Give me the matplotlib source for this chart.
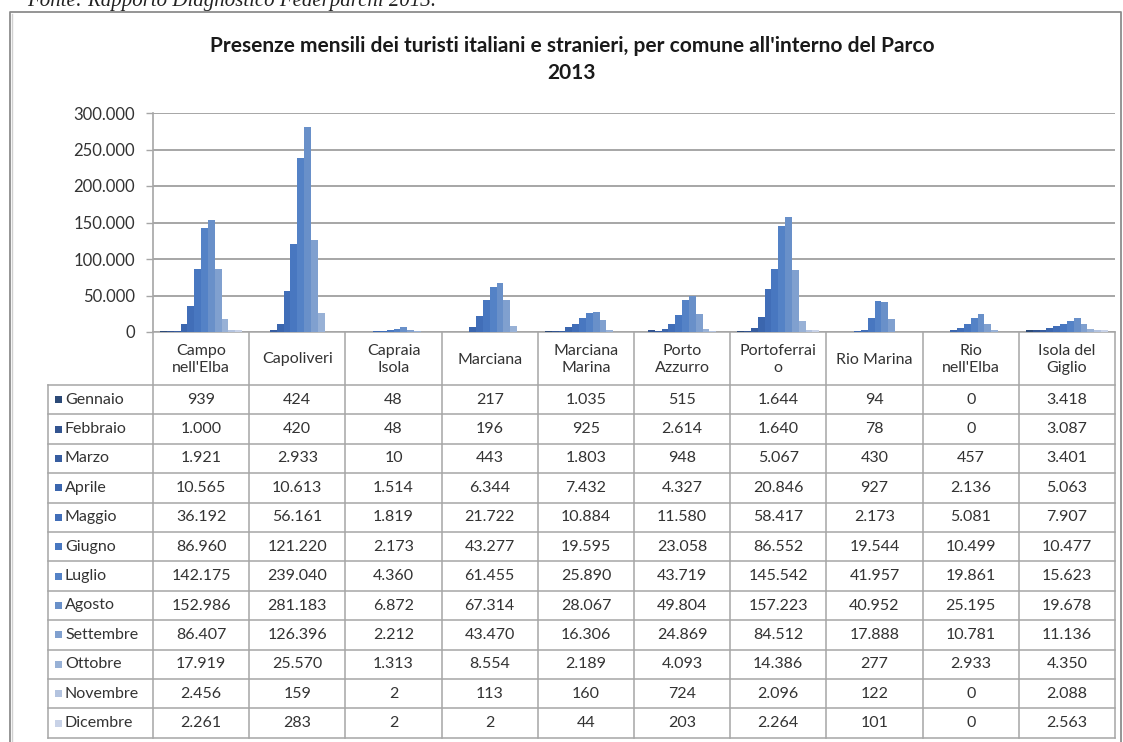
import matplotlib
matplotlib.use("Agg")
import matplotlib.pyplot as plt
import numpy as np

# --- data -------------------------------------------------------------
comuni = ["Campo\nnell'Elba", "Capoliveri", "Capraia\nIsola", "Marciana",
          "Marciana\nMarina", "Porto\nAzzurro", "Portoferrai\no",
          "Rio Marina", "Rio\nnell'Elba", "Isola del\nGiglio"]

mesi = ["Gennaio", "Febbraio", "Marzo", "Aprile", "Maggio", "Giugno",
        "Luglio", "Agosto", "Settembre", "Ottobre", "Novembre", "Dicembre"]

gennaio   = [939, 424, 48, 217, 1035, 515, 1644, 94, 0, 3418]
febbraio  = [1000, 420, 48, 196, 925, 2614, 1640, 78, 0, 3087]
marzo     = [1921, 2933, 10, 443, 1803, 948, 5067, 430, 457, 3401]
aprile    = [10565, 10613, 1514, 6344, 7432, 4327, 20846, 927, 2136, 5063]
maggio    = [36192, 56161, 1819, 21722, 10884, 11580, 58417, 2173, 5081, 7907]
giugno    = [86960, 121220, 2173, 43277, 19595, 23058, 86552, 19544, 10499, 10477]
luglio    = [142175, 239040, 4360, 61455, 25890, 43719, 145542, 41957, 19861, 15623]
agosto    = [152986, 281183, 6872, 67314, 28067, 49804, 157223, 40952, 25195, 19678]
settembre = [86407, 126396, 2212, 43470, 16306, 24869, 84512, 17888, 10781, 11136]
ottobre   = [17919, 25570, 1313, 8554, 2189, 4093, 14386, 277, 2933, 4350]
novembre  = [2456, 159, 2, 113, 160, 724, 2096, 122, 0, 2088]
dicembre  = [2261, 283, 2, 2, 44, 203, 2264, 101, 0, 2563]

serie = [gennaio, febbraio, marzo, aprile, maggio, giugno, luglio,
         agosto, settembre, ottobre, novembre, dicembre]

y_ticks = [0, 50000, 100000, 150000, 200000, 250000, 300000]

colori = ["#2C4A77", "#335490", "#375DA0", "#3B66AE", "#416EB8", "#4877C0",
          "#5482C6", "#6990C9", "#80A0CF", "#98B1D6", "#B3C3DF", "#C8D2E7"]

# --- layout (pixels) --------------------------------------------------
W, H = 1123, 742
PLOT_L, PLOT_R = 153, 1115
PLOT_T, PLOT_B = 113, 332
TAB_L = 48
HEAD_B = 385
ROW_H = 29.4

FONT = "Lato"
GRID = "#A6A6A6"
TXT = "#333333"


def fmt(v):
    return f"{v:,}".replace(",", ".")


fig = plt.figure(figsize=(W / 100, H / 100), dpi=100)

# background canvas in pixel coordinates
bg = fig.add_axes([0, 0, 1, 1])
bg.set_xlim(0, W)
bg.set_ylim(H, 0)
bg.axis("off")

# caption above the chart frame
bg.text(27, 6, "Fonte: Rapporto Diagnostico Federparchi 2013.",
        family="Liberation Serif", style="italic", fontsize=15,
        color="#222222", va="baseline", ha="left")

# chart frame
bg.plot([10, 10, 1121, 1121], [H + 5, 12, 12, H + 5], color="#8C8C8C", lw=1.3)
bg.plot([12, 12], [14, H + 5], color="#D0D0D0", lw=1.0)

# title
bg.text(572, 46, "Presenze mensili dei turisti italiani e stranieri, per comune all'interno del Parco",
        family=FONT, fontweight="bold", fontsize=15, color="#1A1A1A",
        ha="center", va="center")
bg.text(572, 73, "2013", family=FONT, fontweight="bold", fontsize=15,
        color="#1A1A1A", ha="center", va="center")

# --- bar chart --------------------------------------------------------
ax = fig.add_axes([PLOT_L / W, (H - PLOT_B) / H, (PLOT_R - PLOT_L) / W,
                   (PLOT_B - PLOT_T) / H])
n_cat = len(comuni)
n_ser = len(serie)
x = np.arange(n_cat)
group_w = 0.85
bar_w = group_w / n_ser
for i, vals in enumerate(serie):
    offs = -group_w / 2 + bar_w * (i + 0.5)
    ax.bar(x + offs, vals, width=bar_w, color=colori[i], linewidth=0, zorder=3)

ax.set_xlim(-0.5, n_cat - 0.5)
ax.set_ylim(0, 300000)
ax.set_yticks(y_ticks)
ax.set_yticklabels([fmt(v) for v in y_ticks], family=FONT, fontsize=12,
                   color=TXT)
ax.set_xticks([])
ax.tick_params(axis="y", length=5, width=1, color=GRID, pad=8)
ax.grid(axis="y", color=GRID, lw=1.4, zorder=0)
for s in ["top", "right", "bottom"]:
    ax.spines[s].set_visible(False)
ax.spines["left"].set_color(GRID)
ax.spines["left"].set_linewidth(1.2)
ax.set_facecolor("none")

# --- data table -------------------------------------------------------
col_w = (PLOT_R - PLOT_L) / n_cat
tab_bottom = HEAD_B + ROW_H * n_ser
lw_t = 1.1

# header cell separators and borders
for k in range(n_cat + 1):
    xx = PLOT_L + k * col_w
    bg.plot([xx, xx], [PLOT_B, tab_bottom], color=GRID, lw=lw_t)
bg.plot([TAB_L, TAB_L], [HEAD_B, tab_bottom], color=GRID, lw=lw_t)
bg.plot([PLOT_L, PLOT_R], [PLOT_B, PLOT_B], color=GRID, lw=lw_t)
for r in range(n_ser + 1):
    yy = HEAD_B + r * ROW_H
    bg.plot([TAB_L, PLOT_R], [yy, yy], color=GRID, lw=lw_t)

# header labels
for k, name in enumerate(comuni):
    cx = PLOT_L + (k + 0.5) * col_w
    bg.text(cx, (PLOT_B + HEAD_B) / 2 + 1, name, family=FONT, fontsize=11.5,
            color=TXT, ha="center", va="center", linespacing=1.2)

# rows: legend key, month and values
for r, (mese, vals) in enumerate(zip(mesi, serie)):
    cy = HEAD_B + (r + 0.5) * ROW_H
    bg.add_patch(plt.Rectangle((55, cy - 3.5), 7, 7, color=colori[r], lw=0))
    bg.text(65, cy, mese, family=FONT, fontsize=11.5, color=TXT,
            ha="left", va="center")
    for k, v in enumerate(vals):
        cx = PLOT_L + (k + 0.5) * col_w
        bg.text(cx, cy, fmt(v), family=FONT, fontsize=11.5, color=TXT,
                ha="center", va="center")

fig.savefig("out.png", dpi=100, facecolor="white")
